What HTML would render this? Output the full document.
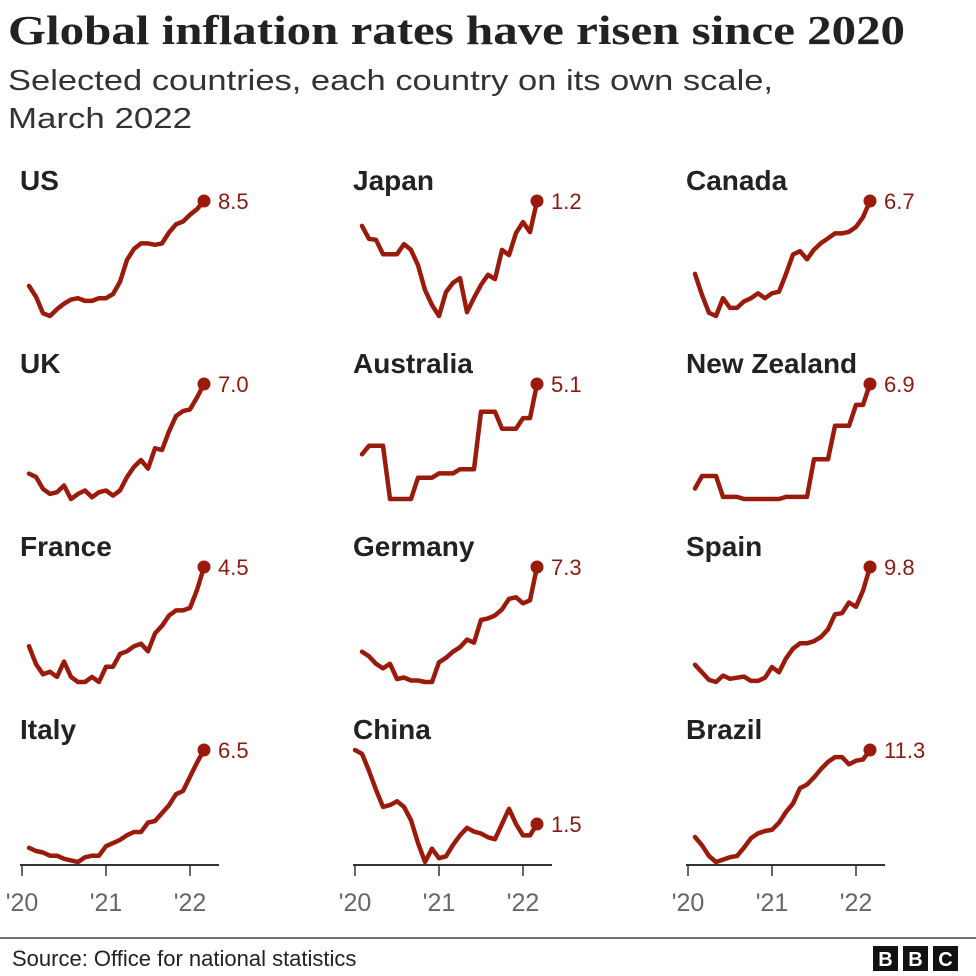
<!DOCTYPE html>
<html><head><meta charset="utf-8"><style>
html,body{margin:0;padding:0;background:#fff;}
svg{display:block;font-family:"Liberation Sans",sans-serif;}
</style></head><body>
<svg id="chart" width="976" height="976" viewBox="0 0 976 976" xmlns="http://www.w3.org/2000/svg">
<rect width="976" height="976" fill="#fff"/>
<text x="8" y="44" font-family="Liberation Serif, serif" font-weight="bold" font-size="41" fill="#222" textLength="897" lengthAdjust="spacingAndGlyphs">Global inflation rates have risen since 2020</text>
<text x="8" y="90" font-size="29" fill="#333" textLength="765" lengthAdjust="spacingAndGlyphs">Selected countries, each country on its own scale,</text>
<text x="8" y="128" font-size="29" fill="#333" textLength="184" lengthAdjust="spacingAndGlyphs">March 2022</text>
<g id="panels"></g>
<line x1="0" y1="938" x2="976" y2="938" stroke="#444" stroke-width="1.5"/>
<text x="12" y="966" font-size="22" fill="#222">Source: Office for national statistics</text>
<g>
<rect x="873" y="946" width="25" height="25" fill="#111"/><text x="885.5" y="966" text-anchor="middle" font-weight="bold" font-size="20" fill="#fff">B</text>
<rect x="903" y="946" width="25" height="25" fill="#111"/><text x="915.5" y="966" text-anchor="middle" font-weight="bold" font-size="20" fill="#fff">B</text>
<rect x="933" y="946" width="25" height="25" fill="#111"/><text x="945.5" y="966" text-anchor="middle" font-weight="bold" font-size="20" fill="#fff">C</text>
</g>
</svg>
<script>
const countries = ["US","Japan","Canada","UK","Australia","New Zealand","France","Germany","Spain","Italy","China","Brazil"];
const startMonth = [1,1,1,1,1,1,1,1,1,1,0,1];
const usVals = [2.3,1.5,0.3,0.1,0.6,1.0,1.3,1.4,1.2,1.2,1.4,1.4,1.7,2.6,4.2,5.0,5.4,5.4,5.3,5.4,6.2,6.8,7.0,7.5,7.9,8.5];
const japanVals = [0.68,0.41,0.39,0.09,0.09,0.09,0.30,0.18,-0.14,-0.66,-0.97,-1.2,-0.7,-0.51,-0.41,-1.12,-0.82,-0.55,-0.34,-0.43,0.18,0.07,0.53,0.76,0.55,1.2];
const canadaVals = [2.2,0.9,-0.2,-0.4,0.7,0.1,0.1,0.5,0.7,1.0,0.7,1.0,1.1,2.2,3.4,3.6,3.1,3.7,4.1,4.4,4.7,4.7,4.8,5.1,5.7,6.7];
const ukVals = [1.7,1.5,0.8,0.5,0.6,1.0,0.2,0.5,0.7,0.3,0.6,0.7,0.4,0.7,1.5,2.1,2.5,2.0,3.2,3.1,4.2,5.1,5.4,5.5,6.2,7.0];
const australiaVals = [1.8,2.2,2.2,2.2,-0.3,-0.3,-0.3,-0.3,0.7,0.7,0.7,0.9,0.9,0.9,1.1,1.1,1.1,3.8,3.8,3.8,3.0,3.0,3.0,3.5,3.5,5.1];
const nzVals = [1.9,2.5,2.5,2.5,1.5,1.5,1.5,1.4,1.4,1.4,1.4,1.4,1.4,1.5,1.5,1.5,1.5,3.3,3.3,3.3,4.9,4.9,4.9,5.9,5.9,6.9];
const franceVals = [1.4,0.7,0.3,0.4,0.2,0.8,0.2,0.0,0.0,0.2,0.0,0.6,0.6,1.1,1.2,1.4,1.5,1.2,1.9,2.2,2.6,2.8,2.8,2.9,3.6,4.5];
const germanyVals = [1.7,1.4,0.9,0.6,0.9,-0.1,0.0,-0.2,-0.2,-0.3,-0.3,1.0,1.3,1.7,2.0,2.5,2.3,3.8,3.9,4.1,4.5,5.2,5.3,4.9,5.1,7.3];
const spainVals = [0.7,0.0,-0.7,-0.9,-0.3,-0.6,-0.5,-0.4,-0.8,-0.8,-0.5,0.5,0.0,1.3,2.2,2.7,2.7,2.9,3.3,4.0,5.4,5.5,6.5,6.1,7.6,9.8];
const italyVals = [0.3,0.1,0.0,-0.2,-0.2,-0.4,-0.5,-0.6,-0.3,-0.2,-0.2,0.4,0.6,0.8,1.1,1.3,1.3,1.9,2.0,2.5,3.0,3.7,3.9,4.8,5.7,6.5];
const chinaVals = [5.4,5.2,4.3,3.3,2.4,2.5,2.7,2.4,1.7,0.5,-0.5,0.2,-0.3,-0.2,0.4,0.9,1.3,1.1,1.0,0.8,0.7,1.5,2.3,1.5,0.9,0.9,1.5];
const brazilVals = [4.0,3.3,2.4,1.9,2.1,2.3,2.4,3.1,3.9,4.3,4.5,4.6,5.2,6.1,6.8,8.1,8.4,9.0,9.7,10.3,10.7,10.7,10.1,10.4,10.5,11.3];
const latestLabels = ["8.5","1.2","6.7","7.0","5.1","6.9","4.5","7.3","9.8","6.5","1.5","11.3"];
const tickLabels = ["'20","'21","'22"];
const tickMonths = [0,12,24];

const series = [usVals,japanVals,canadaVals,ukVals,australiaVals,nzVals,franceVals,germanyVals,spainVals,italyVals,chinaVals,brazilVals];
const NS = "http://www.w3.org/2000/svg";
const g = document.getElementById("panels");
const RED = "#9a1a0c";
function mk(tag, attrs){ const e=document.createElementNS(NS,tag); for(const k in attrs) e.setAttribute(k,attrs[k]); return e; }
function slug(s){ return s.toLowerCase().replace(/\s+/g,'-'); }
const MONTH_PX = 7, COL_W = 333, ROW_H = 183;
function xScale(col, m){ return 22 + col*COL_W + m*MONTH_PX; }

countries.forEach((name,i)=>{
  const col = i%3, row = Math.floor(i/3);
  const vals = series[i];
  const top = 201 + row*ROW_H, bottom = row===3 ? 862 : top+115;
  const mn = Math.min(...vals), mx = Math.max(...vals);
  const yScale = v => bottom - (v-mn)/(mx-mn)*(bottom-top);
  const pg = mk("g",{});
  
  
  const t = mk("text",{x:20+col*COL_W, y:190+row*ROW_H, "font-size":28, "font-weight":"bold", fill:"#222"});
  
  
  t.textContent = name; pg.appendChild(t);
  if(row===3){
    const ax = mk("line",{x1:20+col*COL_W, x2:219+col*COL_W, y1:865, y2:865, stroke:"#333","stroke-width":2});
    
    
    pg.appendChild(ax);
    tickMonths.forEach((m,k)=>{
      const x = xScale(col,m);
      const tk = mk("line",{x1:x,x2:x,y1:865,y2:876,stroke:"#333","stroke-width":1.5});
      
      
      pg.appendChild(tk);
      const tl = mk("text",{x:x, y:911, "text-anchor":"middle", "font-size":25, fill:"#666"});
      
      
      tl.textContent = tickLabels[k]; pg.appendChild(tl);
    });
  }
  const pts = vals.map((v,j)=>xScale(col,startMonth[i]+j).toFixed(1)+","+yScale(v).toFixed(1)).join(" ");
  const pl = mk("polyline",{points:pts, fill:"none", stroke:RED, "stroke-width":4.5, "stroke-linejoin":"round","stroke-linecap":"round"});
  
  
  pg.appendChild(pl);
  const lx = xScale(col,startMonth[i]+vals.length-1), ly = yScale(vals[vals.length-1]);
  const dot = mk("circle",{cx:lx, cy:ly, r:6.5, fill:RED});
  
  
  pg.appendChild(dot);
  const vl = mk("text",{x:lx+14, y:ly+8, "font-size":22, fill:"#8a1a10"});
  
  
  vl.textContent = latestLabels[i]; pg.appendChild(vl);
  g.appendChild(pg);
});
</script>
</body></html>
